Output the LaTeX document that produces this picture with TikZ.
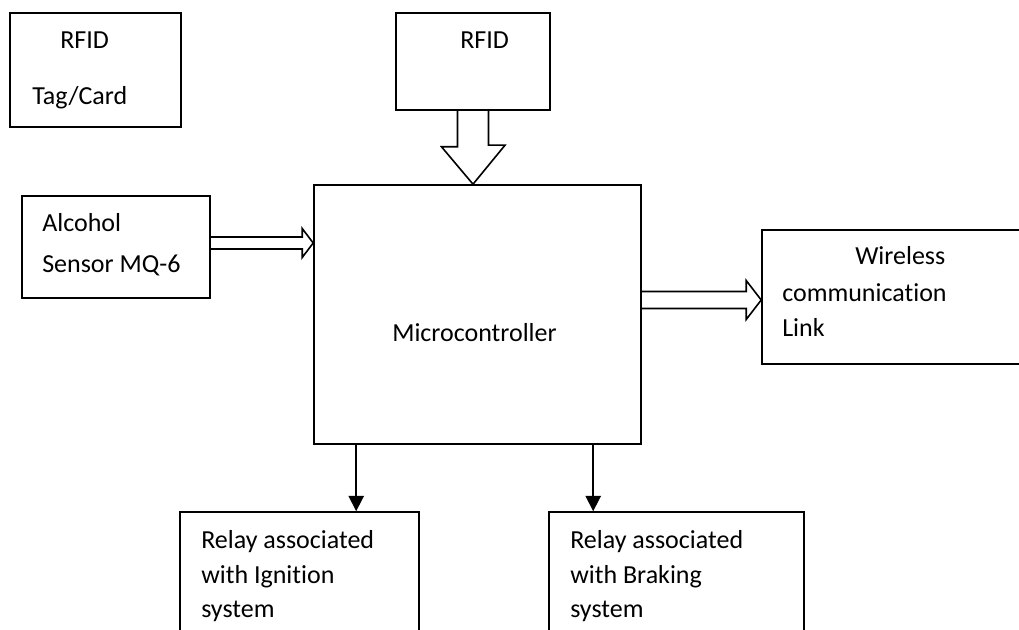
\documentclass[tikz,border=0pt]{standalone}
\usepackage{fontspec}
\setmainfont{Carlito}[Ligatures={NoCommon,NoContextual}]
\usetikzlibrary{calc,fit,arrows.meta}
\begin{document}
\begin{tikzpicture}[x=0.75pt,y=-0.75pt,
  every node/.style={font=\fontsize{19.5pt}{23pt}\selectfont},
  box/.style={draw,line width=1.2pt,inner sep=0pt,rectangle},
  lbl/.style={anchor=base west,inner sep=0pt},
  hollow/.style={draw,line width=1.2pt,line join=miter},
  arr/.style={line width=1.2pt,-{Triangle[width=11.5pt,length=11.5pt]}}]
\useasboundingbox (0,0) rectangle (1019,630);
\clip (0,0) rectangle (1019,630);
% boxes
\node[box,fit={(10,13) (181,127)}] (tag) {};
\node[box,fit={(396,13) (550,110)}] (rfid) {};
\node[box,fit={(314,185) (641,444)}] (mc) {};
\node[box,fit={(22,196) (210,298)}] (alc) {};
\node[box,fit={(762,230) (1040,364)}] (wl) {};
\node[box,fit={(180,512) (419,660)}] (ign) {};
\node[box,fit={(549,512) (804,660)}] (brk) {};
% texts
\node[lbl] (t1) at (60,49) {RFID};
\node[lbl] (t2) at (32,105) {Tag/Card};
\node[lbl] (t3) at (460,49) {RFID};
\node[lbl] (t4) at (42,232) {Alcohol};
\node[lbl] (t5) at (42,273) {Sensor MQ-6};
\node[lbl] (t6) at (392,342) {Microcontroller};
\node[lbl] (t7) at (855,265) {Wireless};
\node[lbl] (t8) at (782,302) {communication};
\node[lbl] (t9) at (782,337) {Link};
\node[lbl] (t10) at (201,548) {Relay associated};
\node[lbl] (t11) at (201,583) {with Ignition};
\node[lbl] (t12) at (201,617) {system};
\node[lbl] (t13) at (570,548) {Relay associated};
\node[lbl] (t14) at (570,583) {with Braking};
\node[lbl] (t15) at (570,617) {system};
% hollow arrows
\draw[hollow] ($(rfid.south)+(-15.5,0)$) -- ++(0,36) -- ++(-16,0) -- (rfid.south |- mc.north) -- ++(32,-39) -- ++(-16.5,0) -- ++(0,-36);
\coordinate (a2) at ($(alc.east)+(0,-4)$);
\draw[hollow] ($(a2)+(0,-6)$) -- ($(a2 -| mc.west)+(-11,-6)$) -- ++(0,-8.5) -- (a2 -| mc.west) -- ++(-11,14.5) -- ++(0,-8.5) -- ($(a2)+(0,6)$);
\coordinate (a3) at ($(wl.west)+(0,3)$);
\draw[hollow] ($(a3 -| mc.east)+(0,-8.5)$) -- ($(a3)+(-15,-8.5)$) -- ++(0,-11) -- (a3) -- ++(-15,19.5) -- ++(0,-11) -- ($(a3 -| mc.east)+(0,8.5)$);
% down arrows
\coordinate (d1) at ($(ign.north west)+(177,0)$);
\draw[arr] (d1 |- mc.south) -- (d1);
\coordinate (d2) at ($(brk.north west)+(45,0)$);
\draw[arr] (d2 |- mc.south) -- (d2);
\end{tikzpicture}
\end{document}
